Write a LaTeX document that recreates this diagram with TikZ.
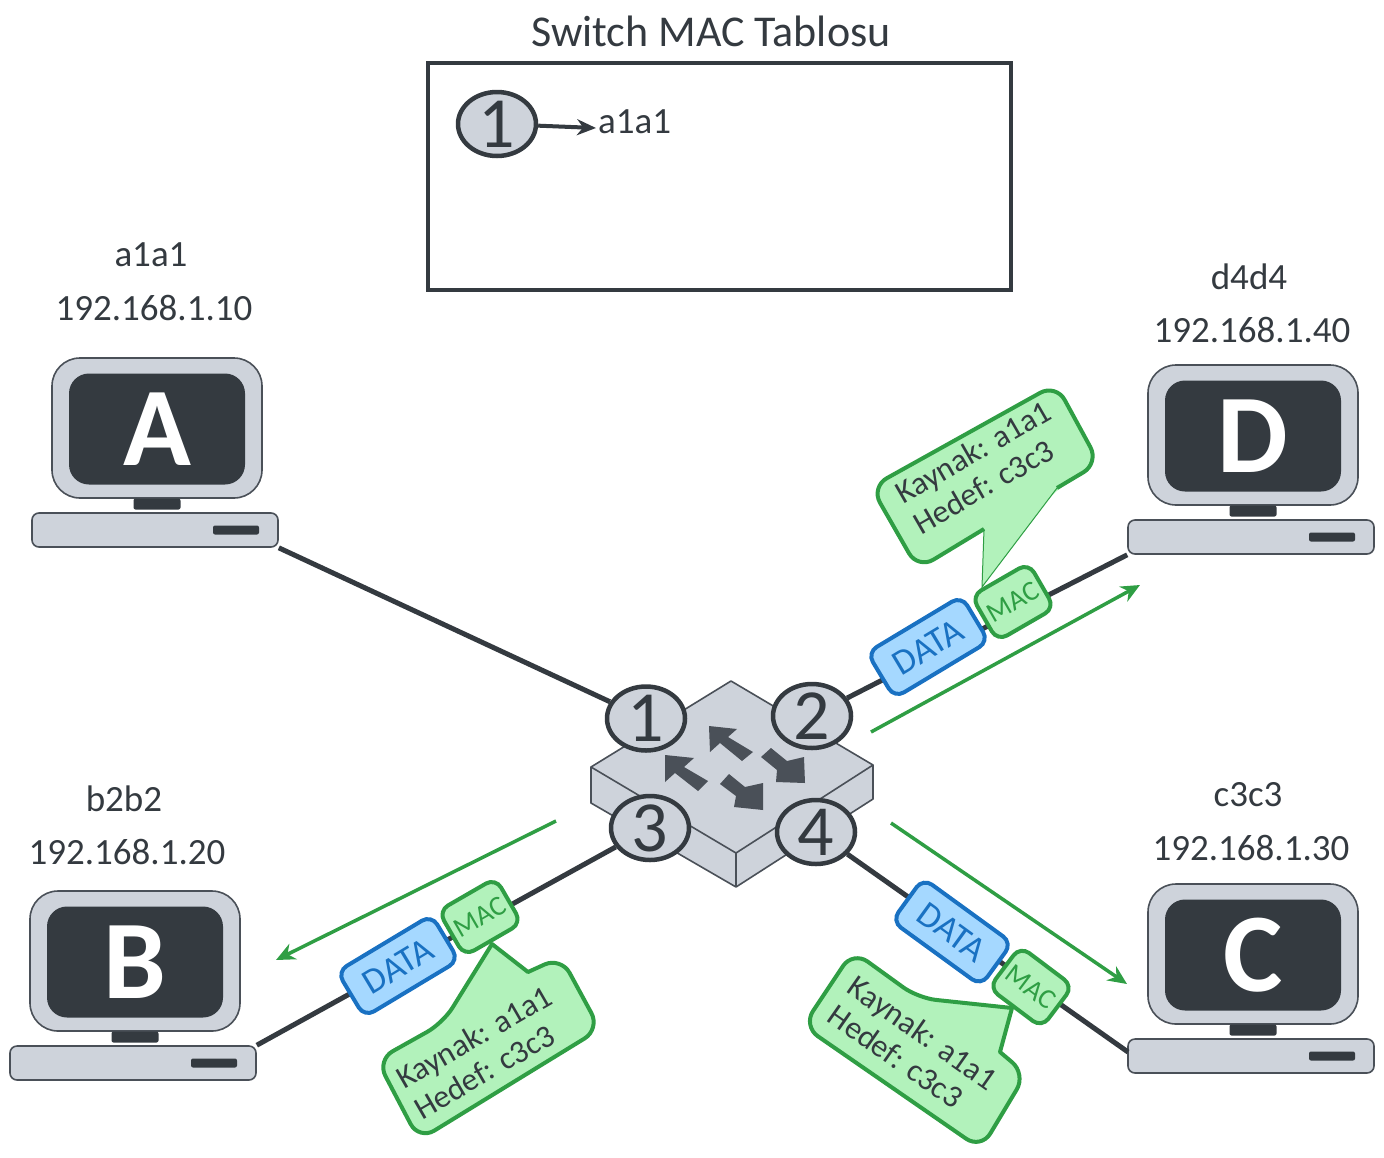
\documentclass[tikz,border=0pt]{standalone}
\usepackage{fontspec}
\setmainfont{Carlito}
\usepackage{xcolor}
\usetikzlibrary{arrows.meta,shapes.geometric}

\definecolor{inkdark}{HTML}{343A40}
\definecolor{pcgray}{HTML}{CED3DB}
\definecolor{swline}{HTML}{4A5058}
\definecolor{macfill}{HTML}{B2F2BB}
\definecolor{macline}{HTML}{2F9E44}
\definecolor{datafill}{HTML}{A5D8FF}
\definecolor{dataline}{HTML}{1971C2}

\tikzset{
	pcbox/.style={draw=swline, line width=1.6pt, fill=pcgray, inner sep=0pt},
	pcdark/.style={fill=inkdark, inner sep=0pt},
	caption/.style={text=inkdark, inner sep=0pt, font=\fontsize{37}{40}\selectfont},
	portnode/.style={ellipse, draw=inkdark, line width=4.5pt, fill=pcgray, inner sep=0pt,
		minimum width=78pt, minimum height=64pt,
		label={[text=inkdark, font=\fontsize{72}{72}\selectfont]center:#1}},
	link/.style={draw=inkdark, line width=5pt},
	flow/.style={draw=macline, line width=3.5pt, -{Stealth[length=19pt,width=17pt]}},
	databox/.style={draw=dataline, fill=datafill, line width=4pt, rounded corners=11pt,
		text=dataline, inner sep=0pt, minimum width=110pt, minimum height=53pt,
		font=\fontsize{36}{36}\selectfont},
	macbox/.style={draw=macline, fill=macfill, line width=4pt, rounded corners=11pt,
		text=macline, inner sep=0pt, minimum width=66pt, minimum height=52pt,
		font=\fontsize{28}{28}\selectfont},
	balloon/.style={draw=macline, fill=macfill, line width=4pt, rounded corners=18pt, line join=round},
	balloontext/.style={text=inkdark, inner sep=0pt, align=left, font=\fontsize{32}{35}\selectfont},
	swarrow/.style={fill=swline}
}

\begin{document}
\begin{tikzpicture}[x=1pt, y=-1pt]
	\useasboundingbox (0,0) rectangle (1384,1157);

	% Make table
	\node (title) [caption, font=\fontsize{44}{48}\selectfont] at (711,31) {Switch MAC Tablosu};
	\node (table) [draw=inkdark, line width=3.5pt, minimum width=583pt, minimum height=227pt] at (719.5,176.5) {};
	\node (tableport) [portnode=1] at (497,124) {};
	\node (tablemac) [caption, anchor=west] at (598,122) {a1a1};
	\coordinate (tabletip) at (596,128);
	\draw [draw=inkdark, line width=4pt, -{Stealth[length=19pt,width=16pt]}] (tableport) -- (tabletip);

	% Make computers
	\foreach \pc/\letter/\mac/\ip/\x/\y/\lx/\ly in {
		a/A/a1a1/192.168.1.10/52/358/154/308,
		b/B/b2b2/192.168.1.20/30/891/127/852,
		c/C/c3c3/192.168.1.30/1148/884/1251/848,
		d/D/d4d4/192.168.1.40/1148/365/1252/330} {
		\node (monitor\pc) [pcbox, rounded corners=28pt, minimum width=210pt, minimum height=140pt] at (\x+105,\y+70) {};
		\node (screen\pc) [pcdark, rounded corners=20pt, minimum width=176pt, minimum height=111pt, text=white,
			font=\fontsize{112}{112}\selectfont\bfseries] at (\x+105,\y+71) {\letter};
		\node (neck\pc) [pcdark, rounded corners=2pt, minimum width=47pt, minimum height=11pt] at (\x+105,\y+146) {};
		\node (base\pc) [pcbox, rounded corners=7pt, minimum width=246pt, minimum height=34pt] at (\x+103,\y+172) {};
		\node (slot\pc) [pcdark, rounded corners=2pt, minimum width=46pt, minimum height=9pt] at (\x+184,\y+172) {};
		\node (ip\pc) [caption] at (\lx,\ly) {\ip};
		\node (mac\pc) [caption] at (\lx-3,\ly-53) {\mac};
	}

	% Make switch
	\draw [draw=swline, line width=1.6pt, fill=pcgray, line join=round]
		(591,767) -- (591,803) -- (736,887) -- (873,799) -- (873,765) -- (731,681) -- cycle;
	\draw [draw=swline, line width=1.6pt] (591,767) -- (736,853) -- (873,765);
	\draw [draw=swline, line width=1.6pt] (736,853) -- (736,887);
	\fill [swarrow] (709,726) -- (737,729) -- (728,737) -- (753,752) -- (742,761) -- (720,743) -- (710,752) -- cycle;
	\fill [swarrow] (665,755) -- (694,758) -- (684,767) -- (708,781) -- (698,791) -- (675,773) -- (665,782) -- cycle;
	\fill [swarrow] (805,783) -- (804,757) -- (787,761) -- (771,748) -- (761,757) -- (777,770) -- (776,782) -- cycle;
	\fill [swarrow] (763,810) -- (763,783) -- (745,787) -- (729,774) -- (720,784) -- (736,796) -- (734,807) -- cycle;

	% Make ports
	\node (port1) [portnode=1] at (646,718.5) {};
	\node (port2) [portnode=2] at (812,716) {};
	\node (port3) [portnode=3] at (650,828) {};
	\node (port4) [portnode=4] at (816,832) {};

	% Make links
	\coordinate (linkc) at (1128,1052);
	\draw [link] (port1) -- (basea.south east);
	\draw [link] (port2) -- (based.south west);
	\draw [link] (port3) -- (baseb.north east);
	\draw [link] (port4) -- (linkc);

	% Make balloons
	\path [balloon, draw=none]
		(871,487) -- (1056,384) -- (1099,463) -- (1057,488) [sharp corners] -- (982,587) -- (984,529) [rounded corners=18pt] -- (918,569) -- cycle;
	\draw [draw=macline, line width=1pt] (1057,488) -- (982,587) -- (984,529);
	\draw [balloon, fill=none] (984,529) -- (918,569) -- (871,487) -- (1056,384) -- (1099,463) -- (1057,488);
	\node (textd) [balloontext, rotate=30] at (982,467) {Kaynak: a1a1\\Hedef: c3c3};

	\draw [balloon]
		(377,1060) -- (443,1023) [sharp corners] -- (492,944) -- (528,972) [rounded corners=18pt] -- (561,957) -- (600,1029) -- (419,1140) -- cycle;
	\node (textb) [balloontext, rotate=30] at (483,1052) {Kaynak: a1a1\\Hedef: c3c3};

	\draw [balloon]
		(853,951) -- (918,998) [sharp corners] -- (1012,1008) -- (1000,1052) [rounded corners=18pt] -- (1026,1074) -- (981,1149) -- (803,1026) -- cycle;
	\node (textc) [balloontext, rotate=-35] at (913,1047) {Kaynak: a1a1\\Hedef: c3c3};

	% Make packets
	\node (datad) [databox, rotate=31] at (928,647) {DATA};
	\node (macd) [macbox, rotate=30] at (1013,602) {MAC};
	\node (datab) [databox, rotate=31] at (398,966) {DATA};
	\node (macb) [macbox, rotate=30] at (480,917) {MAC};
	\node (datac) [databox, rotate=-36] at (952,932) {DATA};
	\node (macc) [macbox, rotate=-37] at (1031,987) {MAC};

	% Make arrows
	\coordinate (startd) at (871,732);
	\coordinate (endd) at (1140,585);
	\coordinate (startb) at (556,821);
	\coordinate (endb) at (276,960);
	\coordinate (startc) at (891,823);
	\coordinate (endc) at (1127,984);
	\draw [flow] (startd) -- (endd);
	\draw [flow] (startb) -- (endb);
	\draw [flow] (startc) -- (endc);
\end{tikzpicture}
\end{document}
